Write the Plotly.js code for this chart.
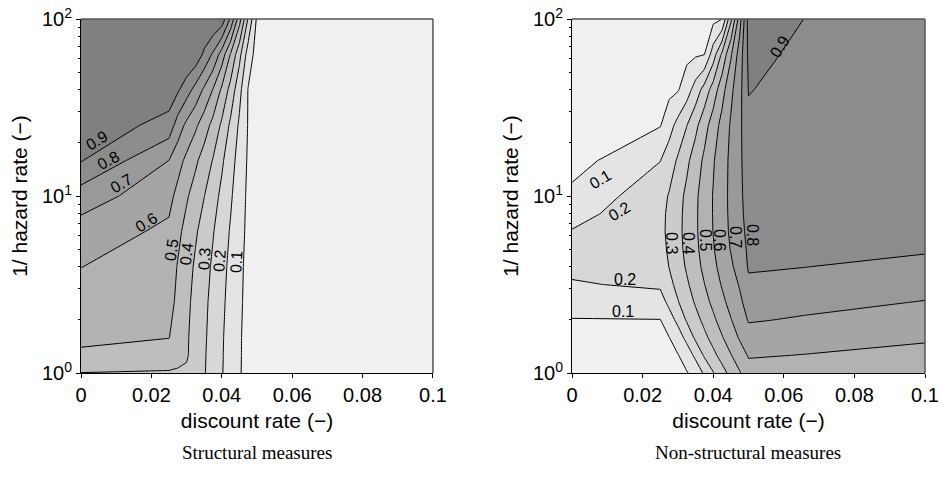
<!DOCTYPE html>
<html>
<head>
<meta charset="utf-8">
<script src="https://cdn.plot.ly/plotly-3.0.1.min.js"></script>
<style>
  html, body { margin: 0; padding: 0; background: #ffffff; }
  #chart { width: 941px; height: 484px; }
</style>
</head>
<body>
<div id="chart"></div>
<script>
// Shared tick labels
const xTicks = [0, 0.02, 0.04, 0.06, 0.08, 0.1];
const xTickText = ['0', '0.02', '0.04', '0.06', '0.08', '0.1'];
const yTicks = [1, 10, 100];
const yTickText = ['10<sup>0</sup>', '10<sup>1</sup>', '10<sup>2</sup>'];
const yMinorTicks = [2, 3, 4, 5, 6, 7, 8, 9, 20, 30, 40, 50, 60, 70, 80, 90];

// Structural measures: discount rate columns, return period rows
const xStruct = [0, 0.025, 0.0275, 0.03, 0.0325, 0.035, 0.0375, 0.04, 0.0425, 0.045, 0.0475, 0.05, 0.1];
const yStruct = [1, 1.259, 1.585, 2.512, 3.981, 6.31, 10, 15.85, 25.12, 39.81, 63.1, 100];
const zStruct = [
  [0.398, 0.392, 0.390, 0.385, 0.351, 0.307, 0.257, 0.206, 0.158, 0.110, 0.060, 0.030, 0],
  [0.490, 0.448, 0.426, 0.410, 0.360, 0.310, 0.259, 0.208, 0.160, 0.112, 0.060, 0.030, 0],
  [0.512, 0.502, 0.465, 0.412, 0.363, 0.314, 0.263, 0.210, 0.162, 0.113, 0.060, 0.030, 0],
  [0.556, 0.530, 0.480, 0.423, 0.371, 0.322, 0.271, 0.219, 0.168, 0.118, 0.068, 0.030, 0],
  [0.601, 0.558, 0.493, 0.439, 0.386, 0.336, 0.285, 0.230, 0.177, 0.123, 0.072, 0.030, 0],
  [0.655, 0.580, 0.525, 0.467, 0.413, 0.360, 0.306, 0.249, 0.191, 0.133, 0.078, 0.030, 0],
  [0.753, 0.630, 0.571, 0.512, 0.457, 0.402, 0.340, 0.277, 0.213, 0.144, 0.082, 0.035, 0],
  [0.905, 0.699, 0.637, 0.577, 0.519, 0.457, 0.394, 0.316, 0.239, 0.161, 0.088, 0.040, 0],
  [0.980, 0.860, 0.754, 0.677, 0.619, 0.548, 0.470, 0.383, 0.281, 0.185, 0.094, 0.045, 0],
  [1.000, 0.960, 0.914, 0.843, 0.767, 0.683, 0.595, 0.483, 0.365, 0.230, 0.095, 0.045, 0],
  [1.000, 1.000, 1.000, 1.000, 0.970, 0.881, 0.785, 0.656, 0.493, 0.331, 0.153, 0.060, 0],
  [1.000, 1.000, 1.000, 1.000, 1.000, 1.000, 1.000, 0.964, 0.783, 0.542, 0.289, 0.082, 0]
];

// Non-structural measures
const xNonStruct = [0, 0.025, 0.0275, 0.03, 0.0325, 0.035, 0.0375, 0.04, 0.0425, 0.045, 0.0475, 0.05, 0.066, 0.1];
const yNonStruct = [1, 1.259, 1.585, 1.995, 2.512, 3.162, 3.981, 5.012, 6.31, 7.943, 10, 15.85, 25.12, 39.81, 63.1, 100];
const zNonStruct = [
  [0.050, 0.060, 0.071, 0.0825, 0.094, 0.135, 0.216, 0.294, 0.364, 0.430, 0.4925, 0.557, 0.548, 0.529],
  [0.065, 0.075, 0.0854, 0.0958, 0.144, 0.223, 0.3125, 0.375, 0.436, 0.495, 0.551, 0.609, 0.597, 0.571],
  [0.080, 0.088, 0.0977, 0.151, 0.229, 0.3186, 0.377, 0.435, 0.493, 0.552, 0.610, 0.660, 0.645, 0.6125],
  [0.096, 0.098, 0.157, 0.226, 0.311, 0.368, 0.425, 0.482, 0.539, 0.595, 0.649, 0.708, 0.690, 0.654],
  [0.140, 0.160, 0.223, 0.294, 0.353, 0.411, 0.467, 0.522, 0.578, 0.630, 0.680, 0.743, 0.728, 0.696],
  [0.192, 0.215, 0.272, 0.330, 0.386, 0.442, 0.498, 0.553, 0.608, 0.657, 0.708, 0.785, 0.769, 0.735],
  [0.220, 0.245, 0.302, 0.357, 0.411, 0.467, 0.522, 0.578, 0.631, 0.683, 0.744, 0.808, 0.801, 0.774],
  [0.232, 0.265, 0.315, 0.370, 0.424, 0.480, 0.536, 0.593, 0.649, 0.705, 0.761, 0.814, 0.812, 0.810],
  [0.205, 0.275, 0.321, 0.374, 0.430, 0.486, 0.544, 0.602, 0.659, 0.716, 0.771, 0.824, 0.821, 0.815],
  [0.165, 0.275, 0.317, 0.372, 0.428, 0.486, 0.545, 0.605, 0.663, 0.720, 0.776, 0.834, 0.829, 0.820],
  [0.125, 0.265, 0.307, 0.364, 0.422, 0.483, 0.544, 0.605, 0.664, 0.722, 0.778, 0.844, 0.838, 0.825],
  [0.060, 0.198, 0.252, 0.313, 0.379, 0.449, 0.520, 0.591, 0.658, 0.721, 0.779, 0.864, 0.854, 0.832],
  [0.045, 0.095, 0.161, 0.232, 0.297, 0.375, 0.461, 0.548, 0.632, 0.711, 0.776, 0.885, 0.862, 0.840],
  [0.040, 0.060, 0.077, 0.093, 0.154, 0.244, 0.340, 0.445, 0.562, 0.677, 0.769, 0.903, 0.872, 0.845],
  [0.035, 0.045, 0.0557, 0.0665, 0.077, 0.088, 0.0987, 0.250, 0.420, 0.587, 0.747, 0.920, 0.884, 0.852],
  [0.030, 0.040, 0.043, 0.047, 0.050, 0.055, 0.060, 0.075, 0.099, 0.378, 0.656, 0.940, 0.899, 0.860]
];

// Contour levels written next to the lines
const structLabelLevels = [0.9, 0.8, 0.7, 0.6, 0.5, 0.4, 0.3, 0.2, 0.1];
const nonStructLabelLevels = [0.1, 0.2, 0.2, 0.1, 0.3, 0.4, 0.5, 0.6, 0.7, 0.8, 0.9];

// Label placement (discount rate, log10 of 1/hazard rate, rotation)
const structLabelPos = [
  [0.00455, 1.311, -31], [0.00767, 1.203, -29], [0.01136, 1.073, -30], [0.01847, 0.853, -32],
  [0.02557, 0.695, -82], [0.02983, 0.672, -84], [0.03494, 0.644, -86], [0.03949, 0.633, -86],
  [0.04403, 0.627, -87]
];
const nonStructLabelPos = [
  [0.00793, 1.096, -31], [0.01331, 0.915, -31], [0.01501, 0.531, 0], [0.01445, 0.345, 0],
  [0.02833, 0.734, 90], [0.03314, 0.734, 90], [0.03796, 0.751, 90], [0.04193, 0.751, 90],
  [0.04646, 0.768, 90], [0.05099, 0.780, 90], [0.05892, 1.842, -58]
];

const panelTitles = ['Structural measures', 'Non-structural measures'];
const xTitle = 'discount rate (\u2212)';
const yTitle = '1/ hazard rate (\u2212)';

const sans = 'Liberation Sans, Arial, sans-serif';
const serif = 'Liberation Serif, Times New Roman, serif';
const grayScale = [[0, 'rgb(240,240,240)'], [1, 'rgb(128,128,128)']];

function contourTrace(x, y, z, xa, ya) {
  return {
    type: 'contour', x: x, y: y, z: z, xaxis: xa, yaxis: ya,
    autocontour: false,
    contours: { start: 0.1, end: 0.9, size: 0.1, coloring: 'fill', showlabels: false },
    colorscale: grayScale,
    showscale: false,
    line: { color: '#000', width: 1, smoothing: 0 },
    hoverinfo: 'skip'
  };
}

function levelLabels(levels, pos, xa, ya) {
  return levels.map(function (lv, i) {
    return {
      text: lv.toFixed(1), xref: xa, yref: ya, x: pos[i][0], y: pos[i][1],
      textangle: pos[i][2], showarrow: false, xanchor: 'center', yanchor: 'middle',
      font: { family: sans, size: 16, color: '#000' }
    };
  });
}

function xAxis(domain, anchor) {
  return {
    domain: domain, anchor: anchor, range: [0, 0.1],
    tickmode: 'array', tickvals: xTicks, ticktext: xTickText,
    ticks: 'outside', ticklen: 4, tickcolor: '#000',
    showline: true, linecolor: '#000', linewidth: 1,
    showgrid: false, zeroline: false,
    tickfont: { family: sans, size: 20, color: '#000' },
    title: { text: xTitle, font: { family: sans, size: 21, color: '#000' }, standoff: 8 }
  };
}

function yAxis(domain, anchor) {
  return {
    domain: domain, anchor: anchor, type: 'log', range: [0, 2],
    tickmode: 'array', tickvals: yTicks, ticktext: yTickText,
    ticks: 'outside', ticklen: 4, tickcolor: '#000',
    minor: { ticks: 'outside', ticklen: 2, tickcolor: '#000', tickmode: 'array', tickvals: yMinorTicks, showgrid: false },
    showline: true, linecolor: '#000', linewidth: 1,
    showgrid: false, zeroline: false,
    tickfont: { family: sans, size: 20, color: '#000' },
    title: { text: yTitle, font: { family: sans, size: 21, color: '#000' }, standoff: 8 }
  };
}

function frame(xa, ya) {
  const line = { color: '#555', width: 1.5 };
  return [
    { type: 'line', xref: xa + ' domain', yref: ya + ' domain', x0: 0, x1: 1, y0: 1, y1: 1, line: line },
    { type: 'line', xref: xa + ' domain', yref: ya + ' domain', x0: 1, x1: 1, y0: 0, y1: 1, line: line }
  ];
}

const data = [
  contourTrace(xStruct, yStruct, zStruct, 'x', 'y'),
  contourTrace(xNonStruct, yNonStruct, zNonStruct, 'x2', 'y2')
];

const captions = [
  { text: panelTitles[0], xref: 'paper', yref: 'paper', x: 0.2731, y: 0.066,
    xanchor: 'center', yanchor: 'middle', showarrow: false,
    font: { family: serif, size: 19, color: '#000' } },
  { text: panelTitles[1], xref: 'paper', yref: 'paper', x: 0.7954, y: 0.066,
    xanchor: 'center', yanchor: 'middle', showarrow: false,
    font: { family: serif, size: 19, color: '#000' } }
];

const yDom = [0.2293, 0.9607];
const layout = {
  width: 941, height: 484,
  margin: { l: 0, r: 0, t: 0, b: 0 },
  paper_bgcolor: '#fff', plot_bgcolor: '#fff',
  showlegend: false,
  xaxis: xAxis([0.0861, 0.4601], 'y'),
  yaxis: yAxis(yDom, 'x'),
  xaxis2: xAxis([0.6079, 0.9830], 'y2'),
  yaxis2: yAxis(yDom, 'x2'),
  shapes: frame('x', 'y').concat(frame('x2', 'y2')),
  annotations: captions
    .concat(levelLabels(structLabelLevels, structLabelPos, 'x', 'y'))
    .concat(levelLabels(nonStructLabelLevels, nonStructLabelPos, 'x2', 'y2'))
};

Plotly.newPlot('chart', data, layout, { staticPlot: true, displayModeBar: false });
</script>
</body>
</html>
